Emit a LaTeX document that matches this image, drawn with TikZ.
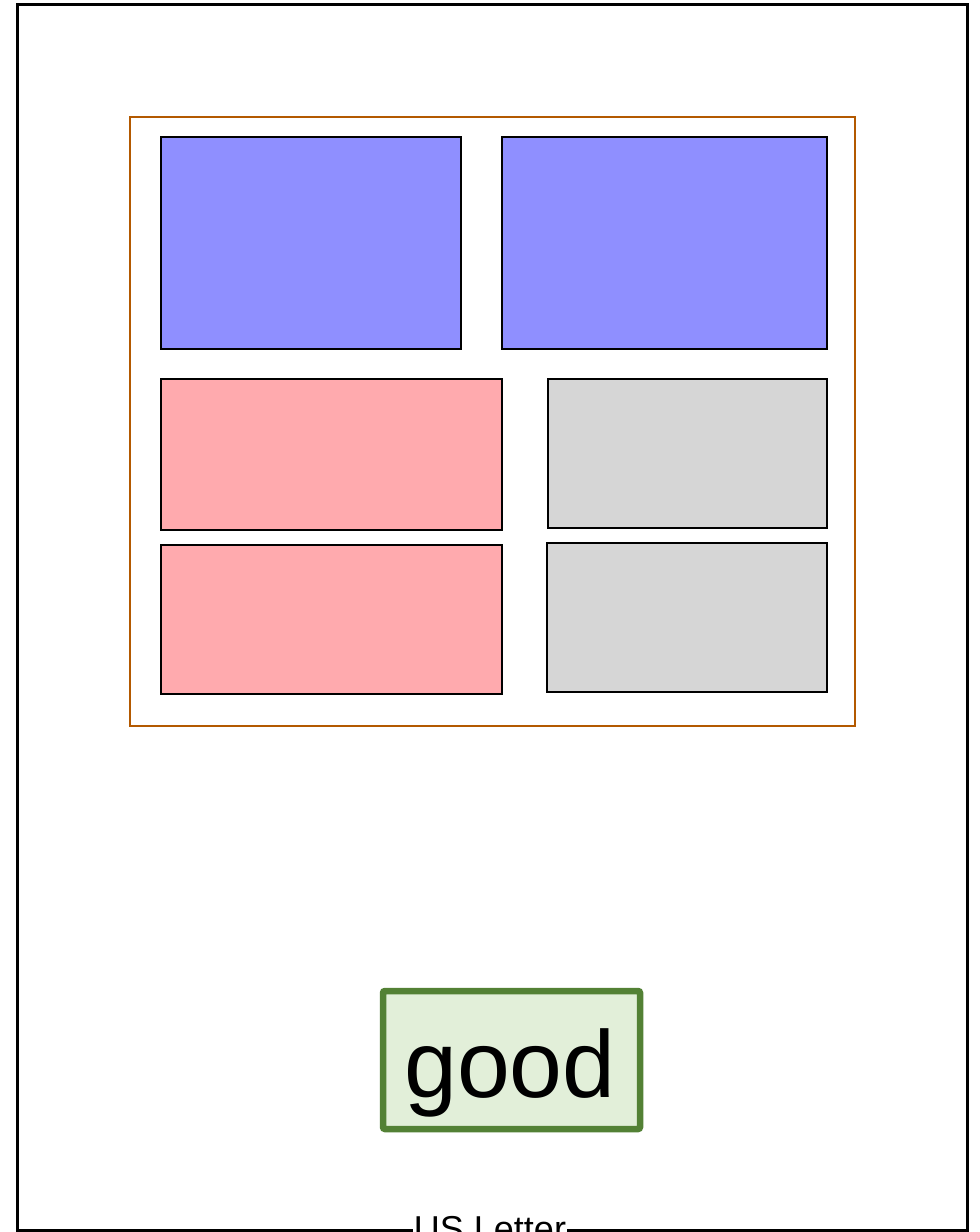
\documentclass[tikz,border=0pt]{standalone}
\usepackage{fontspec}
\setmainfont{Liberation Sans}
\definecolor{framec}{RGB}{179,89,0}
\definecolor{bluef}{RGB}{143,143,255}
\definecolor{pinkf}{RGB}{255,170,174}
\definecolor{grayf}{RGB}{214,214,214}
\definecolor{goodline}{RGB}{83,129,53}
\definecolor{goodfill}{RGB}{226,239,217}
\begin{document}
\begin{tikzpicture}[x=1pt,y=-1pt,
  panel/.style={draw=black,line width=1.4pt},
  bluebox/.style={panel,fill=bluef},
  pinkbox/.style={panel,fill=pinkf},
  graybox/.style={panel,fill=grayf}]
\useasboundingbox (0,0) rectangle (980,1232);
% page frame
\draw[line width=3pt] (17,1230) -- (17,4) -- (967,4) -- (967,1230) -- cycle;
\node[fill=white,inner sep=1pt,anchor=base,font=\fontsize{36}{40}\selectfont] (lbl) at (490,1241) {US Letter};
% orange frame
\draw[framec,line width=2.2pt] (130,117) rectangle (855,726);
% panels
\draw[bluebox] (161,137) rectangle (461,349);
\draw[bluebox] (502,137) rectangle (827,349);
\draw[pinkbox] (161,379) rectangle (502,530);
\draw[graybox] (548,379) rectangle (827,528);
\draw[pinkbox] (161,545) rectangle (502,694);
\draw[graybox] (547,543) rectangle (827,692);
% good box
\draw[goodline,fill=goodfill,line width=6.5pt,rounded corners=2pt] (383,991) rectangle (640,1129);
\node[font=\fontsize{95}{105}\selectfont,anchor=base,inner sep=0pt] (good) at (510,1097) {good};
\end{tikzpicture}
\end{document}
